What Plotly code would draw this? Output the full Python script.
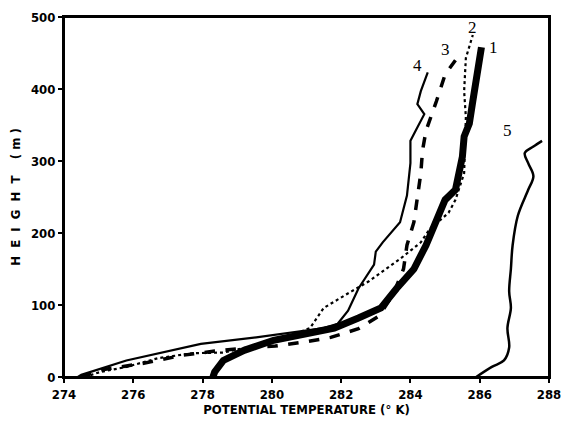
import plotly.graph_objects as go

# Curve data (potential temperature K, height m)
t1 = [278.3, 278.35, 278.6, 279.2, 280.05, 281.0, 281.8, 282.5, 283.15, 283.6, 284.1, 284.45, 284.85, 285.0, 285.3, 285.35, 285.5, 285.55, 285.7, 285.8, 285.9, 286.05]
h1 = [0, 7, 23, 37, 51, 60, 68, 82, 96, 123, 150, 183, 228, 246, 260, 270, 306, 334, 352, 383, 420, 458]

t2 = [274.6, 275.05, 275.8, 276.7, 277.7, 278.6, 279.55, 280.4, 281.1, 281.5, 282.3, 282.8, 283.7, 284.3, 284.55, 285.1, 285.3, 285.55, 285.6, 285.55, 285.6, 285.8]
h2 = [0, 7, 14, 26, 33, 34, 44, 55, 68, 96, 119, 133, 164, 187, 205, 228, 246, 283, 361, 397, 443, 475]

t3 = [274.5, 275.1, 276.3, 277.4, 278.35, 279.2, 280.1, 281.0, 281.7, 282.5, 283.1, 283.5, 283.8, 283.85, 283.9, 284.1, 284.2, 284.3, 284.35, 284.45, 284.75, 285.0, 285.3]
h3 = [0, 10, 19, 30, 36, 40, 43, 49, 55, 67, 85, 115, 150, 164, 183, 215, 246, 283, 315, 342, 383, 420, 440]

t4 = [274.4, 274.5, 275.8, 276.7, 277.95, 279.55, 281.0, 281.5, 281.9, 282.2, 282.5, 282.95, 283.0, 283.2, 283.7, 283.9, 284.0, 284.0, 284.15, 284.4, 284.2, 284.3, 284.5]
h4 = [0, 3, 23, 33, 46, 55, 64, 68, 74, 92, 123, 156, 174, 187, 215, 252, 297, 328, 342, 365, 379, 397, 423]

t5 = [285.9, 286.35, 286.7, 286.85, 286.8, 286.9, 286.85, 286.9, 286.95, 287.1, 287.4, 287.55, 287.4, 287.3, 287.55, 287.8]
h5 = [0, 14, 23, 41, 68, 96, 119, 150, 183, 224, 260, 279, 297, 311, 320, 328]

curve_labels = ["1", "2", "3", "4", "5"]
label_t = [286.4, 285.8, 285.0, 284.2, 286.8]
label_h = [457, 485, 455, 432, 342]

x_ticks = [274, 276, 278, 280, 282, 284, 286, 288]
y_ticks = [0, 100, 200, 300, 400, 500]

fig = go.Figure()
fig.add_trace(go.Scatter(x=t4, y=h4, mode="lines", line=dict(color="black", width=2.2), showlegend=False))
fig.add_trace(go.Scatter(x=t3, y=h3, mode="lines", line=dict(color="black", width=3.5, dash="dash"), showlegend=False))
fig.add_trace(go.Scatter(x=t2, y=h2, mode="lines", line=dict(color="black", width=2.2, dash="dot"), showlegend=False))
fig.add_trace(go.Scatter(x=t1, y=h1, mode="lines", line=dict(color="black", width=7), showlegend=False))
fig.add_trace(go.Scatter(x=t5, y=h5, mode="lines", line=dict(color="black", width=2.5, shape="spline"), showlegend=False))

for lab, lx, ly in zip(curve_labels, label_t, label_h):
    fig.add_annotation(x=lx, y=ly, text=lab, showarrow=False,
                       font=dict(family="Liberation Serif, DejaVu Serif, serif", size=17, color="black"))

# frame around the plotting area
fig.add_shape(type="rect", xref="paper", yref="paper", x0=0, x1=1, y0=0, y1=1,
              line=dict(color="black", width=2))

axis_font = dict(family="DejaVu Sans Condensed, Liberation Sans Narrow, Liberation Sans, sans-serif",
                 size=13, color="black", weight="bold")
fig.update_xaxes(range=[274, 288], tickvals=x_ticks, ticktext=[str(v) for v in x_ticks],
                 showgrid=False, zeroline=False, showline=True, linecolor="black", linewidth=2,
                 mirror=True, ticks="outside", ticklen=4, tickwidth=2, tickcolor="black", tickfont=axis_font,
                 automargin=False, ticklabeloverflow="allow",
                 title=dict(text="POTENTIAL TEMPERATURE (° K)", font=axis_font, standoff=4))
fig.update_yaxes(range=[0, 500], tickvals=y_ticks, ticktext=[str(v) for v in y_ticks],
                 showgrid=False, zeroline=False, showline=True, linecolor="black", linewidth=2,
                 mirror=True, ticks="outside", ticklen=4, tickwidth=2, tickcolor="black", tickfont=axis_font,
                 automargin=False, ticklabeloverflow="allow",
                 title=dict(text="H  E  I  G  H  T    ( m )", font=axis_font, standoff=8))

# the page body adds an 8px margin; size the figure so the page fits the 570x426 window
fig.update_layout(width=554, height=410, margin=dict(l=56, r=13, t=9, b=41),
                  plot_bgcolor="white", paper_bgcolor="white")
fig.write_html("out.html")
